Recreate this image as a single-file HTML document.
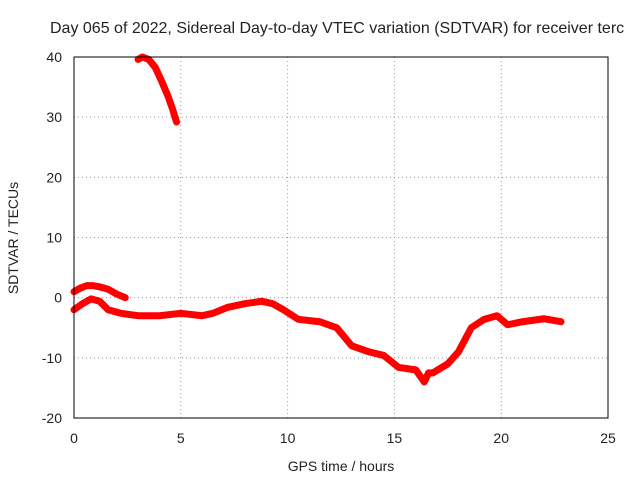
<!DOCTYPE html>
<html><head><meta charset="utf-8"><style>
body{margin:0;background:#fff;}
text{font-family:"Liberation Sans",sans-serif;font-size:14px;fill:#222;}
</style></head><body>
<svg id="chart" width="640" height="480" xmlns="http://www.w3.org/2000/svg">
<rect width="640" height="480" fill="#fff"/>
<g id="grid"></g>
<g id="ticks"></g>
<g id="series"></g>
<rect x="74" y="57" width="534" height="361" fill="none" stroke="#000" stroke-width="1"/>
<text x="50" y="33" style="font-size:16px">Day 065 of 2022, Sidereal Day-to-day VTEC variation (SDTVAR) for receiver terc</text>
<text x="341" y="471" text-anchor="middle">GPS time / hours</text>
<text transform="translate(18,238) rotate(-90)" text-anchor="middle">SDTVAR / TECUs</text>
</svg>
<script>
const xTicks=[0,5,10,15,20,25];
const yTicks=[-20,-10,0,10,20,30,40];
const segTopX=[3.0,3.2,3.5,3.8,4.1,4.4,4.6,4.8];
const segTopY=[39.6,40,39.6,38.3,36,33.5,31.5,29.2];
const segUpperX=[0,0.3,0.6,0.9,1.2,1.6,2.0,2.4];
const segUpperY=[1,1.6,2,2,1.8,1.4,0.6,0];
const mainX=[0,0.4,0.8,1.2,1.6,2.2,3,4,5,6,6.5,7.2,8,8.8,9.3,9.8,10.5,11.5,12.3,13,13.8,14.5,15.2,16,16.4,16.6,16.8,17.5,18,18.6,19.2,19.8,20.3,21,22,22.8];
const mainY=[-2,-1,-0.2,-0.6,-2,-2.6,-3,-3,-2.6,-3,-2.6,-1.6,-1,-0.6,-1,-2,-3.6,-4,-5,-8,-9,-9.6,-11.6,-12,-14,-12.5,-12.5,-11,-9,-5,-3.6,-3,-4.5,-4,-3.5,-4];
const X=v=>74+v*(534/25);
const Y=v=>418-(v+20)*(361/60);
const ns="http://www.w3.org/2000/svg";
const grid=document.getElementById('grid'),ticks=document.getElementById('ticks'),ser=document.getElementById('series');
function mk(tag,attrs,parent){const e=document.createElementNS(ns,tag);for(const k in attrs)e.setAttribute(k,attrs[k]);parent.appendChild(e);return e;}
xTicks.forEach(t=>{
 if(t>0&&t<25){const g=mk('line',{x1:X(t),x2:X(t),y1:57,y2:418,stroke:'#999','stroke-dasharray':'1,3'},grid);
 
 }
 const l=mk('text',{x:X(t),y:443,'text-anchor':'middle'},ticks);l.textContent=t;
 
 
});
yTicks.forEach(t=>{
 if(t>-20&&t<40){const g=mk('line',{x1:74,x2:608,y1:Y(t),y2:Y(t),stroke:'#999','stroke-dasharray':'1,3'},grid);
 
 }
 const l=mk('text',{x:62,y:Y(t)+5,'text-anchor':'end'},ticks);l.textContent=t;
 
 
});
function line(xs,ys,name){
 const p=mk('polyline',{points:xs.map((x,i)=>X(x)+','+Y(ys[i])).join(' '),fill:'none',stroke:'#f00','stroke-width':7,'stroke-linejoin':'round','stroke-linecap':'round'},ser);
 
 
}
line(segTopX,segTopY,'series-top-segment');
line(segUpperX,segUpperY,'series-upper-segment');
line(mainX,mainY,'series-main');
</script>
</body></html>
